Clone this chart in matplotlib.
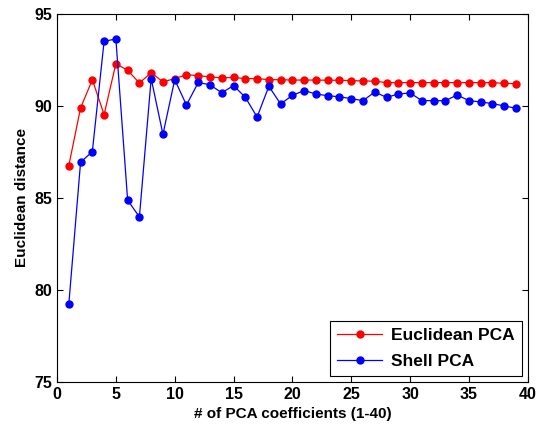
import numpy as np
import matplotlib.pyplot as plt

plt.rcParams['font.family'] = ['Liberation Sans', 'DejaVu Sans']
plt.rcParams['font.weight'] = 'bold'

# data
n_coef = np.arange(1, 40)

euclid_pca = [86.76, 89.89, 91.43, 89.53, 92.3, 91.94, 91.25, 91.81, 91.31, 91.49,
              91.7, 91.65, 91.58, 91.53, 91.55, 91.49, 91.49, 91.43, 91.43, 91.41,
              91.41, 91.41, 91.4, 91.4, 91.38, 91.36, 91.35, 91.27, 91.27, 91.27,
              91.27, 91.27, 91.27, 91.27, 91.27, 91.27, 91.27, 91.23, 91.21]

shell_pca = [79.22, 86.94, 87.52, 93.52, 93.64, 84.88, 83.97, 91.49, 88.46, 91.43,
             90.05, 91.28, 91.15, 90.72, 91.11, 90.47, 89.4, 91.07, 90.11, 90.58,
             90.84, 90.65, 90.56, 90.5, 90.4, 90.29, 90.76, 90.47, 90.65, 90.71,
             90.29, 90.29, 90.29, 90.6, 90.29, 90.22, 90.13, 90.0, 89.88]

fig = plt.figure(figsize=(5.38, 4.38), dpi=100)
ax = fig.add_axes([0.106, 0.128, 0.875, 0.84])

ax.plot(n_coef, euclid_pca, '-o', color='red', lw=0.9, ms=5, label='Euclidean PCA')
ax.plot(n_coef, shell_pca, '-o', color='blue', lw=0.9, ms=5, label='Shell PCA')

ax.set_xlim(0, 40)
ax.set_ylim(75, 95)
ax.set_xticks(np.arange(0, 41, 5))
ax.set_yticks(np.arange(75, 96, 5))
ax.tick_params(direction='in', top=True, right=True, labelsize=11.5, length=4)
ax.set_xlabel('# of PCA coefficients (1-40)', fontsize=11, fontweight='bold')
ax.set_ylabel('Euclidean distance', fontsize=11, fontweight='bold')

leg = ax.legend(loc='lower right', fontsize=12.5, fancybox=False, edgecolor='black',
                framealpha=1, borderaxespad=0.35, handlelength=2.6,
                labelspacing=0.6, handletextpad=0.5)
leg.get_frame().set_linewidth(0.8)

fig.savefig('out.png', dpi=100)
